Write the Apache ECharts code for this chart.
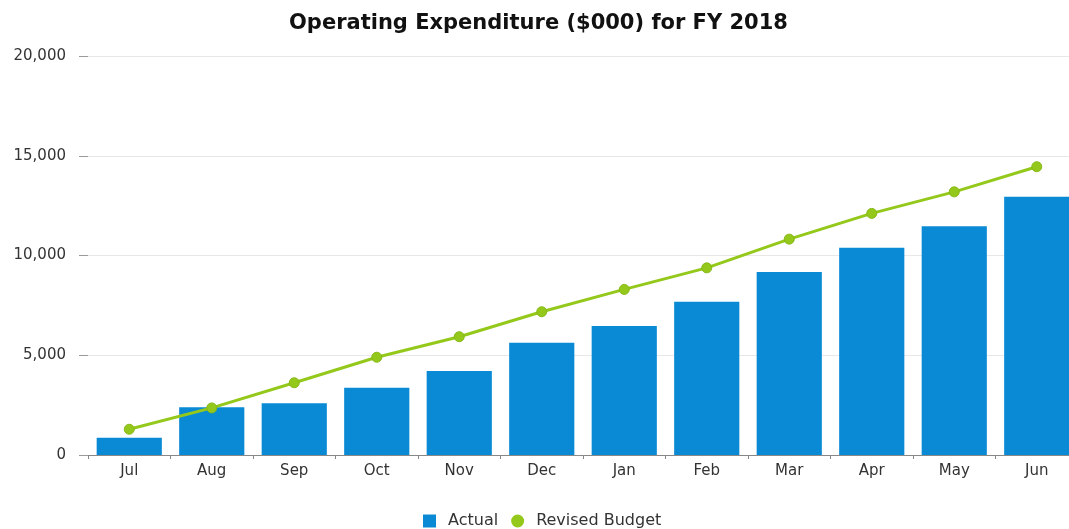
<!DOCTYPE html>
<html>
<head>
<meta charset="utf-8">
<script src="https://cdn.jsdelivr.net/npm/echarts@6/dist/echarts.min.js"></script>
<style>
  html, body { margin: 0; padding: 0; background: #fff; }
  #chart { width: 1069px; height: 529px; }
</style>
</head>
<body>
<div id="chart"></div>
<script>
const months = ["Jul", "Aug", "Sep", "Oct", "Nov", "Dec", "Jan", "Feb", "Mar", "Apr", "May", "Jun"];
const actual = [870, 2390, 2590, 3370, 4210, 5630, 6460, 7680, 9170, 10390, 11460, 12940];
const revisedBudget = [1290, 2360, 3620, 4900, 5930, 7180, 8300, 9380, 10820, 12110, 13190, 14450];

const font = "'DejaVu Sans', 'Liberation Sans', sans-serif";

const chart = echarts.init(document.getElementById("chart"));
const option = {
  animation: false,
  textStyle: { fontFamily: font },
  title: {
    text: "Operating Expenditure ($000) for FY 2018",
    left: 284,
    top: 8,
    textStyle: { fontFamily: font, fontSize: 21, fontWeight: "bold", color: "#111" },
  },
  legend: {
    top: 508,
    left: 418,
    itemWidth: 13,
    itemHeight: 13,
    itemGap: 13,
    textStyle: { fontFamily: font, fontSize: 16, color: "#333", padding: [0, 0, 0, 7] },
    data: [
      { name: "Actual", icon: "rect" },
      { name: "Revised Budget", icon: "circle", itemStyle: { borderWidth: 0 } },
    ],
  },
  grid: { left: 88, width: 990, top: 56, bottom: 74, outerBoundsMode: "none" },
  xAxis: {
    type: "category",
    data: months,
    axisLine: { lineStyle: { color: "#888", width: 1 } },
    axisTick: { show: true, length: 4, lineStyle: { color: "#888" } },
    axisLabel: { color: "#333", fontSize: 15, margin: 9, fontFamily: font },
  },
  yAxis: {
    type: "value",
    min: 0,
    max: 20000,
    interval: 5000,
    axisLine: { show: false },
    axisTick: { show: true, length: 9, lineStyle: { color: "#999" } },
    axisLabel: {
      color: "#333",
      fontSize: 15,
      margin: 22,
      fontFamily: font,
      formatter: v => v.toLocaleString("en-US"),
    },
    splitLine: { lineStyle: { color: "#e8e8e8" } },
  },
  series: [
    {
      name: "Actual",
      type: "bar",
      data: actual,
      barCategoryGap: "21%",
      itemStyle: { color: "#0a8ad4" },
    },
    {
      name: "Revised Budget",
      type: "line",
      data: revisedBudget,
      symbol: "circle",
      symbolSize: 10,
      lineStyle: { color: "#94c91c", width: 3 },
      itemStyle: { color: "#94c91c", borderColor: "#86b817", borderWidth: 1 },
      z: 3,
    },
  ],
};
chart.setOption(option);
</script>
</body>
</html>
